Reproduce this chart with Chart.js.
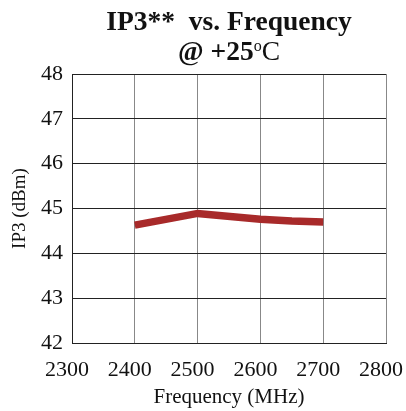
<!DOCTYPE html>
<html>
<head>
<meta charset="utf-8">
<script src="https://cdn.jsdelivr.net/npm/chart.js@4/dist/chart.umd.min.js"></script>
<style>
  html, body { margin: 0; padding: 0; background: #fff; }
  #wrap { position: relative; width: 406px; height: 411px; }
  #title {
    position: absolute; left: 72px; width: 314px; top: 6px;
    text-align: center; font-family: "Liberation Serif", serif;
    font-weight: bold; font-size: 27.5px; line-height: 30px; color: #111;
  }
  #title .n { font-weight: normal; }
  #title sup { font-size: 16px; vertical-align: 9px; line-height: 0; }
</style>
</head>
<body>
<div id="wrap">
  <canvas id="chart" width="406" height="411"></canvas>
  <div id="title">IP3**&nbsp; vs. Frequency<br>@ +25<sup class="n">o</sup><span class="n">C</span></div>
</div>
<script>
const freqs = [2400, 2500, 2600, 2650, 2700];
const ip3 = [44.63, 44.89, 44.76, 44.72, 44.70];
const xTicks = [2300, 2400, 2500, 2600, 2700, 2800];
const yTicks = [42, 43, 44, 45, 46, 47, 48];

const serif = 'Liberation Serif';

new Chart(document.getElementById('chart'), {
  type: 'line',
  data: {
    datasets: [{
      data: freqs.map((f, i) => ({ x: f, y: ip3[i] })),
      borderColor: '#a82a2a',
      borderWidth: 7.5,
      pointRadius: 0,
      tension: 0
    }]
  },
  options: {
    responsive: false,
    animation: false,
    layout: { padding: { top: 74, right: 20, left: 0, bottom: 0 } },
    plugins: { legend: { display: false }, tooltip: { enabled: false } },
    scales: {
      x: {
        type: 'linear',
        min: xTicks[0],
        max: xTicks[xTicks.length - 1],
        afterBuildTicks: s => { s.ticks = xTicks.map(v => ({ value: v })); },
        afterFit: s => { s.height = 68; s.paddingRight = 0; s.paddingLeft = 0; },
        ticks: { color: '#111', font: { family: serif, size: 22 }, padding: 14, labelOffset: -5, maxRotation: 0, callback: v => String(v) },
        grid: { color: '#888', drawTicks: false },
        border: { color: '#222' },
        title: { display: true, text: 'Frequency (MHz)', color: '#111', font: { family: serif, size: 21 }, padding: { top: 0, bottom: 1 } }
      },
      y: {
        min: yTicks[0],
        max: yTicks[yTicks.length - 1],
        afterBuildTicks: s => { s.ticks = yTicks.map(v => ({ value: v })); },
        afterFit: s => { s.width = 72; },
        ticks: { color: '#111', font: { family: serif, size: 22 }, padding: 9 },
        grid: { color: '#222', drawTicks: false },
        border: { color: '#222' },
        title: { display: true, text: 'IP3 (dBm)', color: '#111', font: { family: serif, size: 19 }, padding: { top: 9, bottom: 0 } }
      }
    }
  }
});
</script>
</body>
</html>
